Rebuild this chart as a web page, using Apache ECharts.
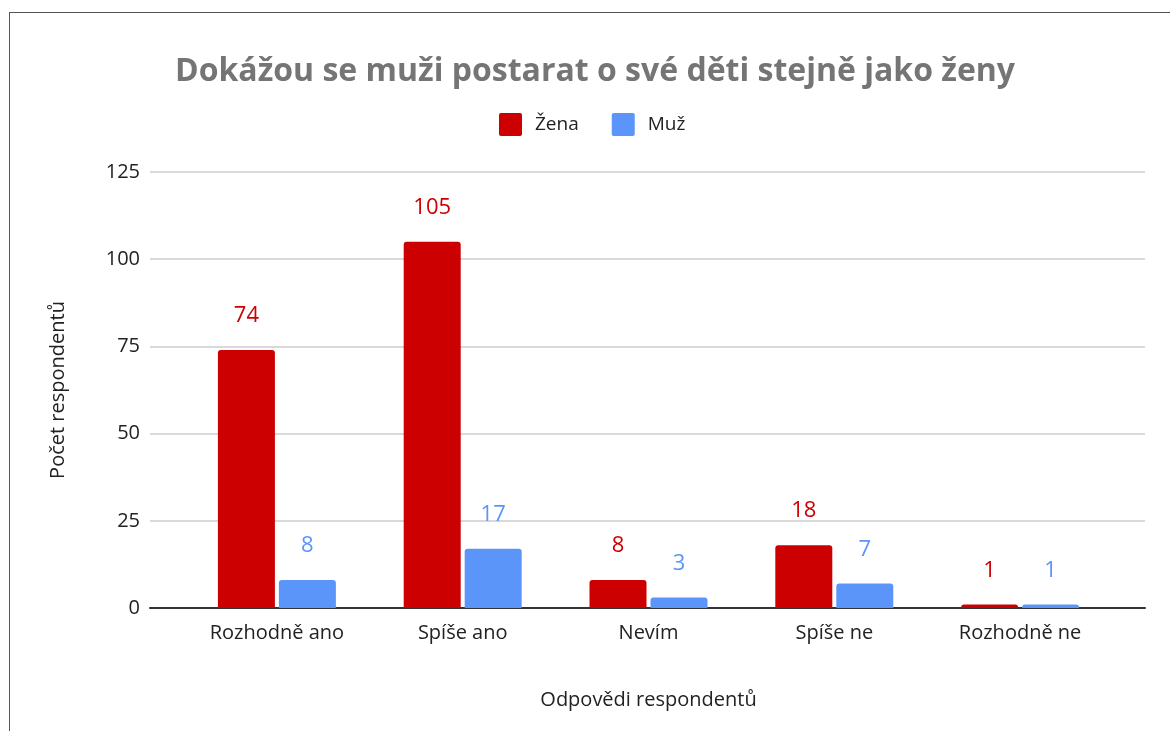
<!DOCTYPE html>
<html>
<head>
<meta charset="utf-8">
<script src="https://cdn.jsdelivr.net/npm/echarts@6/dist/echarts.min.js"></script>
<style>
  html, body { margin: 0; padding: 0; background: #fff; }
  #frame { position: absolute; left: 9px; top: 12px; right: 0; bottom: 0; border-left: 1px solid #555; border-top: 1px solid #555; }
  #chart { position: absolute; left: 0; top: 0; width: 1170px; height: 731px; }
</style>
</head>
<body>
<div id="frame"></div>
<div id="chart"></div>
<script>
var categories = ['Rozhodně ano', 'Spíše ano', 'Nevím', 'Spíše ne', 'Rozhodně ne'];
var zena = [74, 105, 8, 18, 1];
var muz = [8, 17, 3, 7, 1];
var yTicks = [0, 25, 50, 75, 100, 125];

var fontFamily = '"Open Sans", "Noto Sans", sans-serif';
var red = '#cc0000';
var blue = '#5b95f9';

var chart = echarts.init(document.getElementById('chart'));

var option = {
    textStyle: { fontFamily: fontFamily },
    title: {
        text: 'Dokážou se muži postarat o své děti stejně jako ženy',
        left: 170,
        top: 51,
        textStyle: { fontSize: 32, fontWeight: 'bold', color: '#757575', fontFamily: fontFamily }
    },
    legend: {
        top: 108,
        left: 494,
        itemWidth: 23,
        itemHeight: 23,
        itemGap: 33,
        icon: 'path://M2,0 H21 Q23,0 23,2 V21 Q23,23 21,23 H2 Q0,23 0,21 V2 Q0,0 2,0 Z',
        formatter: '{t|{name}}',
        textStyle: {
            fontSize: 19, color: '#222', fontFamily: fontFamily,
            rich: { t: { fontSize: 19, color: '#222', fontFamily: fontFamily, padding: [0, 0, 0, 8] } }
        },
        data: ['Žena', 'Muž']
    },
    grid: [
        { left: 150, right: 25, top: 172, bottom: 123 },
        { left: 184, right: 57, top: 172, bottom: 123 }
    ],
    xAxis: [
        {
            gridIndex: 0,
            type: 'category',
            data: [''],
            axisLine: { show: true, lineStyle: { color: '#333', width: 2 } },
            axisTick: { show: false },
            axisLabel: { show: false }
        },
        {
            gridIndex: 1,
            type: 'category',
            data: categories,
            name: 'Odpovědi respondentů',
            nameLocation: 'middle',
            nameGap: 82,
            nameTextStyle: { fontSize: 20, color: '#222' },
            axisLine: { show: false },
            axisTick: { show: false },
            axisLabel: { fontSize: 20, color: '#222', margin: 15 }
        }
    ],
    yAxis: [
        {
            gridIndex: 0,
            type: 'value',
            min: yTicks[0],
            max: yTicks[yTicks.length - 1],
            interval: 25,
            name: 'Počet respondentů',
            nameLocation: 'middle',
            nameGap: 82,
            nameRotate: 90,
            nameTextStyle: { fontSize: 20, color: '#222' },
            axisLine: { show: false },
            axisTick: { show: false },
            axisLabel: { fontSize: 20, color: '#222', margin: 10 },
            splitLine: { lineStyle: { color: '#ccc', width: 1.5 } }
        },
        {
            gridIndex: 1,
            type: 'value',
            min: yTicks[0],
            max: yTicks[yTicks.length - 1],
            interval: 25,
            show: false
        }
    ],
    series: [
        {
            name: 'Žena',
            type: 'bar',
            xAxisIndex: 1,
            yAxisIndex: 1,
            data: zena,
            barWidth: 57,
            barGap: '7%',
            itemStyle: { color: red, borderRadius: [3, 3, 0, 0] },
            label: { show: true, position: 'top', distance: 23, fontSize: 22, color: red }
        },
        {
            name: 'Muž',
            type: 'bar',
            xAxisIndex: 1,
            yAxisIndex: 1,
            data: muz,
            barWidth: 57,
            barGap: '7%',
            itemStyle: { color: blue, borderRadius: [3, 3, 0, 0] },
            label: { show: true, position: 'top', distance: 23, fontSize: 22, color: blue }
        }
    ]
};

chart.setOption(option);
</script>
</body>
</html>
